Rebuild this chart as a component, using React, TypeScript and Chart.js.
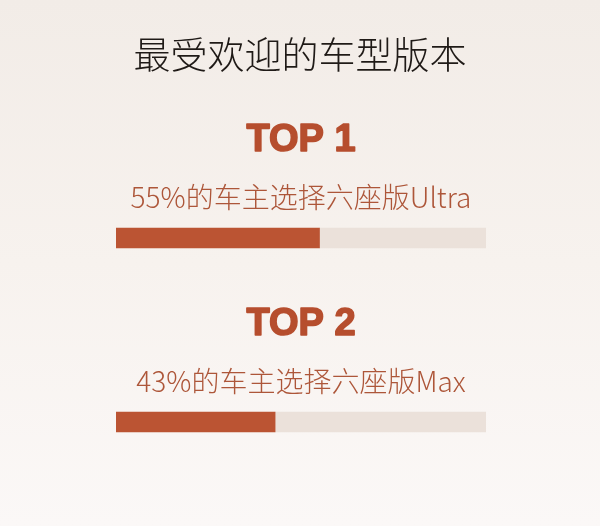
import { useEffect, useRef } from "react";
import { Chart, registerables } from "chart.js";

Chart.register(...registerables);

const TITLE = "最受欢迎的车型版本";
const RANKS = ["TOP 1", "TOP 2"];
const CAPTIONS = ["55%的车主选择六座版Ultra", "43%的车主选择六座版Max"];
const SHARES = [55, 43];
const TRACK = SHARES.map((v) => 100 - v);

const CJK = '"Noto Sans CJK SC", "Noto Sans", sans-serif';

const labelPlugin = {
    id: "rankLabels",
    afterDraw(chart: Chart) {
        const { ctx } = chart;
        const cx = (chart.chartArea.left + chart.chartArea.right) / 2;
        ctx.save();
        ctx.textAlign = "center";
        ctx.textBaseline = "middle";

        ctx.fillStyle = "#1f1a17";
        ctx.font = `300 37px ${CJK}`;
        ctx.fillText(TITLE, 300, 55);

        const bars = chart.getDatasetMeta(0).data;
        bars.forEach((bar, i) => {
            const y = bar.y;
            // heavy rank heading, stroked a little to look like a black weight
            ctx.fillStyle = "#b64e2e";
            ctx.strokeStyle = "#b64e2e";
            ctx.lineWidth = 1.6;
            ctx.lineJoin = "round";
            ctx.font = 'bold 38px "Liberation Sans", Arial, sans-serif';
            ctx.fillText(RANKS[i], cx, y - 97);
            ctx.strokeText(RANKS[i], cx, y - 97);
            ctx.fillStyle = "#ad5639";
            ctx.font = `300 28px ${CJK}`;
            ctx.fillText(CAPTIONS[i], cx, y - 41);
        });
        ctx.restore();
    },
};

export default function App() {
    const canvasRef = useRef<HTMLCanvasElement>(null);
    const chartRef = useRef<Chart | null>(null);

    useEffect(() => {
        if (!canvasRef.current) return;
        chartRef.current?.destroy();

        chartRef.current = new Chart(canvasRef.current, {
            type: "bar",
            data: {
                labels: RANKS,
                datasets: [
                    {
                        data: SHARES,
                        backgroundColor: "#bb5433",
                        borderWidth: 0,
                        barThickness: 20,
                        stack: "s",
                    },
                    {
                        data: TRACK,
                        backgroundColor: "#ebe1da",
                        borderWidth: 0,
                        barThickness: 20,
                        stack: "s",
                    },
                ],
            },
            options: {
                indexAxis: "y",
                animation: false,
                responsive: true,
                maintainAspectRatio: false,
                layout: { padding: { top: 146, bottom: 12, left: 116, right: 114 } },
                scales: {
                    x: { stacked: true, min: 0, max: 100, display: false },
                    y: { stacked: true, display: false },
                },
                plugins: {
                    legend: { display: false },
                    tooltip: { enabled: false },
                },
            },
            plugins: [labelPlugin],
        });

        return () => {
            chartRef.current?.destroy();
        };
    }, []);

    return (
        <div
            style={{
                position: "fixed",
                inset: 0,
                width: "600px",
                height: "526px",
                background: "linear-gradient(#f2ece7, #f7f2ee 50%, #fbf8f7)",
            }}
        >
            <canvas ref={canvasRef} role="img" aria-label="Most popular trim versions" />
        </div>
    );
}
